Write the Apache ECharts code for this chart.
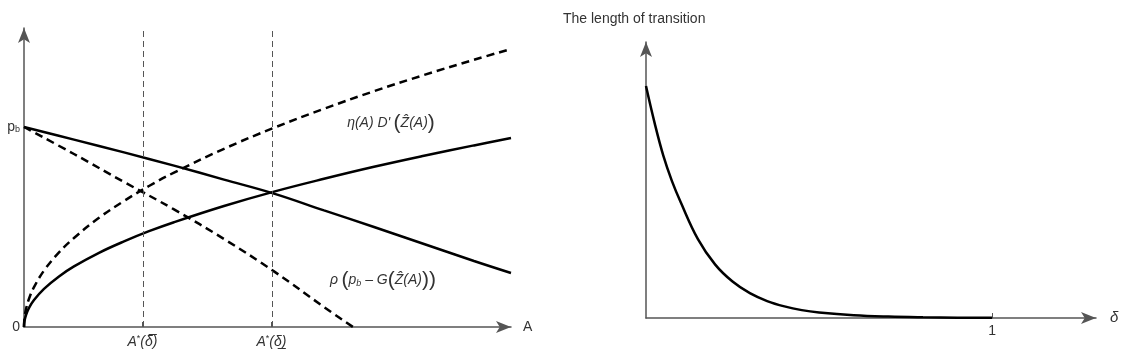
<!DOCTYPE html>
<html>
<head>
<meta charset="utf-8">
<script src="https://cdn.jsdelivr.net/npm/echarts@6/dist/echarts.min.js"></script>
<style>
html,body{margin:0;padding:0;background:#fff;}
#c{width:1129px;height:355px;}
</style>
</head>
<body>
<div id="c"></div>
<script>
// ---- Left panel data ----
const riseX = [0, 0.005, 0.02, 0.05, 0.1, 0.2, 0.35, 0.5, 0.75, 1, 1.25, 1.5, 2, 2.5, 3, 3.5, 4, 4.5, 4.87];
const solidRise = [0, 0.03, 0.06, 0.096, 0.135, 0.191, 0.253, 0.303, 0.371, 0.428, 0.479, 0.524, 0.605, 0.677, 0.741, 0.801, 0.856, 0.908, 0.945];
const dashedRise = [0, 0.045, 0.089, 0.141, 0.199, 0.282, 0.373, 0.445, 0.546, 0.63, 0.705, 0.772, 0.891, 0.996, 1.091, 1.179, 1.26, 1.336, 1.39];
const solidFallX = [0, 0.5, 1, 1.5, 2, 2.5, 3, 3.5, 4, 4.5, 4.87];
const solidFall = [1.0, 0.937, 0.873, 0.807, 0.737, 0.667, 0.583, 0.5, 0.415, 0.33, 0.27];
const dashedFallX = [0, 0.5, 1, 1.5, 2, 2.5, 3, 3.29];
const dashedFall = [1.0, 0.865, 0.725, 0.588, 0.44, 0.278, 0.1, 0];
const aTicks = [1.185, 2.475];
const aTickLabels = ['{i|A}{s|*}{i|(\u03b4\u0305)}', '{i|A}{s|*}{i|(\u03b4\u0332)}'];
const yTicks = [0, 1];
const yTickLabels = ['{p|0}', '{p|p}{sb|b}'];
const etaLabelPos = [3.67, 1.02];
const rhoLabelPos = [3.59, 0.235];

// ---- Right panel data ----
const deltaX = [0, 0.025, 0.05, 0.075, 0.1, 0.15, 0.2, 0.25, 0.3, 0.35, 0.4, 0.45, 0.5, 0.6, 0.7, 0.8, 0.9, 1.0];
const lengthY = [1.0, 0.84, 0.70, 0.59, 0.50, 0.34, 0.23, 0.157, 0.107, 0.073, 0.05, 0.034, 0.024, 0.012, 0.006, 0.003, 0.0015, 0.0008];
const deltaTicks = [1];

const zip = (xs, ys) => xs.map((x, i) => [x, ys[i]]);

const axisCol = '#555';
const txt = '#333';
const font = 'Liberation Sans, Arial, sans-serif';
const arrow = { show: true, symbol: ['none', 'arrow'], symbolSize: [9, 15], lineStyle: { color: axisCol, width: 1.5 } };
const mathRich = {
  i: { fontStyle: 'italic', fontSize: 14, color: txt, fontFamily: font },
  s: { fontSize: 9, color: txt, verticalAlign: 'top', padding: [0, 0, 7, 0], fontFamily: font },
  b: { fontSize: 21, color: txt, fontFamily: font },
  sub: { fontStyle: 'italic', fontSize: 9, color: txt, padding: [7, 0, 0, 0], fontFamily: font },
  p: { fontSize: 14, color: txt, fontFamily: font },
  sb: { fontSize: 9, color: txt, padding: [6, 0, 0, 0], fontFamily: font }
};

const chart = echarts.init(document.getElementById('c'), null, { renderer: 'canvas' });
chart.setOption({
  animation: false,
  backgroundColor: '#fff',
  title: {
    text: 'The length of transition', left: 558, top: 7,
    textStyle: { fontSize: 14, fontWeight: 'normal', color: txt, fontFamily: font }
  },
  grid: [
    { left: 24, top: 28, width: 487, height: 299 },
    { left: 646, top: 42, width: 450, height: 276 }
  ],
  xAxis: [
    {
      gridIndex: 0, type: 'value', min: 0, max: 4.87,
      name: 'A', nameLocation: 'end', nameGap: 12,
      nameTextStyle: { fontSize: 14, color: txt, fontFamily: font },
      axisLine: arrow,
      splitLine: { show: false },
      axisTick: { show: true, inside: true, length: 5, customValues: aTicks, lineStyle: { color: axisCol } },
      axisLabel: {
        show: true, customValues: aTicks, margin: 7,
        formatter: v => aTickLabels[aTicks.indexOf(v)] || '',
        rich: mathRich
      }
    },
    {
      gridIndex: 1, type: 'value', min: 0, max: 1.3,
      name: '\u03b4', nameLocation: 'end', nameGap: 14,
      nameTextStyle: { fontSize: 15, color: txt, fontStyle: 'italic', fontFamily: font },
      axisLine: arrow,
      splitLine: { show: false },
      axisTick: { show: true, inside: true, length: 5, customValues: deltaTicks, lineStyle: { color: axisCol } },
      axisLabel: {
        show: true, customValues: deltaTicks, margin: 6,
        formatter: v => String(v), fontSize: 14, color: txt, fontFamily: font
      }
    }
  ],
  yAxis: [
    {
      gridIndex: 0, type: 'value', min: 0, max: 1.495,
      axisLine: arrow,
      splitLine: { show: false },
      axisTick: { show: false },
      axisLabel: {
        show: true, customValues: yTicks, margin: 4,
        formatter: v => yTickLabels[yTicks.indexOf(v)] || '',
        rich: mathRich
      }
    },
    {
      gridIndex: 1, type: 'value', min: 0, max: 1.19,
      axisLine: arrow,
      splitLine: { show: false },
      axisTick: { show: false },
      axisLabel: { show: false }
    }
  ],
  series: [
    {
      type: 'line', xAxisIndex: 0, yAxisIndex: 0, data: zip(riseX, solidRise),
      smooth: 0.4, showSymbol: false, clip: false,
      lineStyle: { color: '#000', width: 2.5 },
      markLine: {
        silent: true, symbol: ['none', 'none'], label: { show: false },
        lineStyle: { color: '#555', width: 1, type: [6, 4] },
        data: aTicks.map(v => ({ xAxis: v }))
      },
      markPoint: {
        symbol: 'circle', symbolSize: 0,
        data: [
          { coord: etaLabelPos, label: { show: true, position: 'inside', formatter: "{i|\u03b7(A) D'} {b|(}{i|\u1e90(A)}{b|)}", rich: mathRich } },
          { coord: rhoLabelPos, label: { show: true, position: 'inside', formatter: '{i|\u03c1} {b|(}{i|p}{sub|b}{i| \u2013 G}{b|(}{i|\u1e90(A)}{b|))}', rich: mathRich } }
        ]
      }
    },
    {
      type: 'line', xAxisIndex: 0, yAxisIndex: 0, data: zip(riseX, dashedRise),
      smooth: 0.4, showSymbol: false, clip: false,
      lineStyle: { color: '#000', width: 2.5, type: [8, 5] }
    },
    {
      type: 'line', xAxisIndex: 0, yAxisIndex: 0, data: zip(solidFallX, solidFall),
      smooth: 0.4, showSymbol: false, clip: false,
      lineStyle: { color: '#000', width: 2.5 }
    },
    {
      type: 'line', xAxisIndex: 0, yAxisIndex: 0, data: zip(dashedFallX, dashedFall),
      smooth: 0.4, showSymbol: false, clip: false,
      lineStyle: { color: '#000', width: 2.5, type: [8, 5] }
    },
    {
      type: 'line', xAxisIndex: 1, yAxisIndex: 1, data: zip(deltaX, lengthY),
      smooth: 0.4, showSymbol: false, clip: false,
      lineStyle: { color: '#000', width: 2.5 }
    }
  ]
});
</script>
</body>
</html>
